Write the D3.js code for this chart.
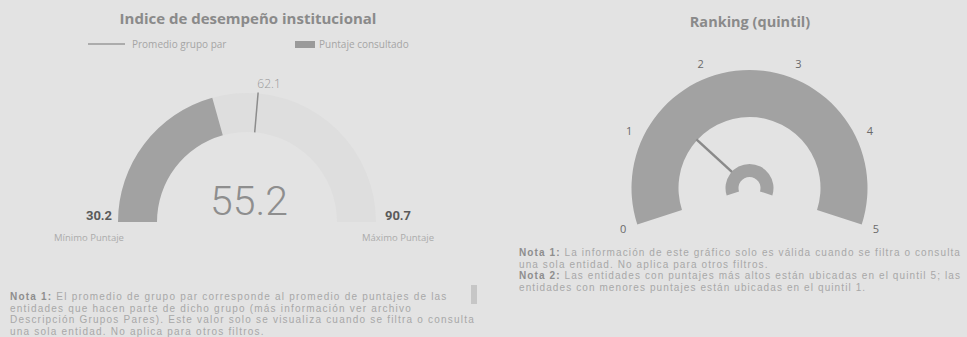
<!DOCTYPE html>
<html>
<head>
<meta charset="utf-8">
<script src="https://cdn.jsdelivr.net/npm/d3@7"></script>
<style>
  body { margin: 0; background: #e3e3e3; }
  svg { display: block; font-family: "Open Sans", "Liberation Sans", sans-serif; }
</style>
</head>
<body>
<div id="chart"></div>
<script>
// data
var gaugeRange = [30.2, 90.7]
var gaugeValue = 55.2
var peerAverage = 62.1
var rangeLabels = ["Mínimo Puntaje", "Máximo Puntaje"]
var legendLabels = ["Promedio grupo par", "Puntaje consultado"]
var quintilTicks = [0, 1, 2, 3, 4, 5]
var quintilValue = 1.4
var note1Left = [
  ["Nota 1:", " El promedio de grupo par corresponde al promedio de puntajes de las"],
  ["", "entidades que hacen parte de dicho grupo (más información ver archivo"],
  ["", "Descripción Grupos Pares). Este valor solo se visualiza cuando se filtra o consulta"],
  ["", "una sola entidad. No aplica para otros filtros."]
]
var notesRight = [
  ["Nota 1:", " La información de este gráfico solo es válida cuando se filtra o consulta"],
  ["", "una sola entidad. No aplica para otros filtros."],
  ["Nota 2:", " Las entidades con puntajes más altos están ubicadas en el quintil 5; las"],
  ["", "entidades con menores puntajes están ubicadas en el quintil 1."]
]

var W = 967, H = 337
var arcColor = '#a2a2a2'

var svg = d3.select("#chart").append("svg")
  .attr("width", W)
  .attr("height", H)

svg.append("rect").attr("width", W).attr("height", H).attr("fill", "#e3e3e3")

// ---------- left: gauge ----------
var left = svg.append("g")

left.append("text")
  .attr("x", 248).attr("y", 24)
  .attr("text-anchor", "middle")
  .attr("font-size", 15).attr("font-weight", "bold")
  .attr("fill", "#8a8a8a")
  .text("Indice de desempeño institucional")

// legend
left.append("line")
  .attr("x1", 88).attr("x2", 125).attr("y1", 44).attr("y2", 44)
  .attr("stroke", "#9a9a9a").attr("stroke-width", 1.5)
left.append("text")
  .attr("x", 132).attr("y", 47.5)
  .attr("font-size", 10).attr("fill", "#a5a5a5")
  .text(legendLabels[0])
left.append("rect")
  .attr("x", 295).attr("y", 41).attr("width", 20).attr("height", 7)
  .attr("fill", "#9a9a9a")
left.append("text")
  .attr("x", 319).attr("y", 47.5)
  .attr("font-size", 10).attr("fill", "#a5a5a5")
  .text(legendLabels[1])

var cx = 247, cy = 222, rIn = 90, rOut = 129
var angle = d3.scaleLinear().domain(gaugeRange).range([-Math.PI / 2, Math.PI / 2])
var arc = d3.arc().innerRadius(rIn).outerRadius(rOut)

var g = left.append("g").attr("transform", "translate(" + cx + "," + cy + ")")
g.append("path")
  .attr("d", arc({ startAngle: angle(gaugeRange[0]), endAngle: angle(gaugeRange[1]) }))
  .attr("fill", "#dedede")
g.append("path")
  .attr("d", arc({ startAngle: angle(gaugeRange[0]), endAngle: angle(gaugeValue) }))
  .attr("fill", arcColor)

var a = angle(peerAverage)
g.append("line")
  .attr("x1", Math.sin(a) * rIn).attr("y1", -Math.cos(a) * rIn)
  .attr("x2", Math.sin(a) * (rOut + 1)).attr("y2", -Math.cos(a) * (rOut + 1))
  .attr("stroke", "#8c8c8c").attr("stroke-width", 1.5)
g.append("text")
  .attr("x", Math.sin(a) * rOut + 11).attr("y", -Math.cos(a) * rOut - 5)
  .attr("text-anchor", "middle")
  .attr("font-size", 12).attr("font-weight", 300)
  .attr("fill", "#999")
  .text(d3.format(".1f")(peerAverage))

g.append("text")
  .attr("x", 2).attr("y", -7)
  .attr("text-anchor", "middle")
  .attr("font-family", "Roboto, sans-serif")
  .attr("font-size", 41).attr("font-weight", 300)
  .attr("fill", "#8e8e8e")
  .text(d3.format(".1f")(gaugeValue))

// min / max
gaugeRange.forEach(function(v, i) {
  var x = i == 0 ? -rOut - 19 : rOut + 22
  g.append("text")
    .attr("x", x).attr("y", -2)
    .attr("text-anchor", "middle")
    .attr("font-family", "Roboto, sans-serif")
    .attr("font-size", 13).attr("font-weight", "bold")
    .attr("fill", "#5a5a5a")
    .text(d3.format(".1f")(v))
  g.append("text")
    .attr("x", x - (i == 0 ? 10 : 0)).attr("y", 19)
    .attr("text-anchor", "middle")
    .attr("font-size", 9.5)
    .attr("fill", "#ababab")
    .text(rangeLabels[i])
})

// notes: widest line stretched to the width seen in the picture
function notes(sel, rows, x, y0, widest, target) {
  var lines = rows.map(function(r, i) {
    var t = sel.append("text")
      .attr("x", x).attr("y", y0 + i * 11.5)
      .attr("font-family", "'Liberation Sans', Arial, sans-serif")
      .attr("font-size", 10)
      .attr("fill", "#a8a8a8")
    if (r[0]) t.append("tspan").attr("font-weight", "bold").attr("fill", "#8e8e8e").text(r[0])
    t.append("tspan").text(r[1])
    return t
  })
  var w = lines[widest].node().getComputedTextLength()
  var n = (rows[widest][0] + rows[widest][1]).length
  var ls = Math.max(0, (target - w) / n)
  lines.forEach(function(t) { t.attr("letter-spacing", ls) })
}
notes(left, note1Left, 10, 300, 2, 465)
left.append("rect")
  .attr("x", 471).attr("y", 285).attr("width", 6).attr("height", 19)
  .attr("fill", "#c6c6c6")

// ---------- right: ranking ----------
var right = svg.append("g")
right.append("text")
  .attr("x", 750).attr("y", 27)
  .attr("text-anchor", "middle")
  .attr("font-size", 14.5).attr("font-weight", "bold")
  .attr("fill", "#8a8a8a")
  .text("Ranking (quintil)")

var rcx = 749.5, rcy = 188
var qAngle = d3.scaleLinear().domain([0, 5]).range([-108 * Math.PI / 180, 108 * Math.PI / 180])
var rg = right.append("g").attr("transform", "translate(" + rcx + "," + rcy + ")")

rg.append("path")
  .attr("d", d3.arc().innerRadius(71).outerRadius(118)({ startAngle: qAngle(0), endAngle: qAngle(5) }))
  .attr("fill", arcColor)

rg.selectAll(".tick")
  .data(quintilTicks)
  .enter().append("text")
  .attr("class", "tick")
  .attr("x", function(d) { return Math.sin(qAngle(d)) * 133 })
  .attr("y", function(d) { return -Math.cos(qAngle(d)) * 133 })
  .attr("dy", "0.35em")
  .attr("text-anchor", "middle")
  .attr("font-size", 11)
  .attr("fill", "#6a6a6a")
  .text(function(d) { return d })

var na = qAngle(quintilValue)
rg.append("line")
  .attr("x1", Math.sin(na) * 22).attr("y1", -Math.cos(na) * 22)
  .attr("x2", Math.sin(na) * 72).attr("y2", -Math.cos(na) * 72)
  .attr("stroke", "#8a8a8a").attr("stroke-width", 2.5)

rg.append("path")
  .attr("d", d3.arc().innerRadius(11).outerRadius(24)({ startAngle: qAngle(0), endAngle: qAngle(5) }))
  .attr("fill", arcColor)

notes(right, notesRight, 519, 256, 0, 442)
</script>
</body>
</html>
